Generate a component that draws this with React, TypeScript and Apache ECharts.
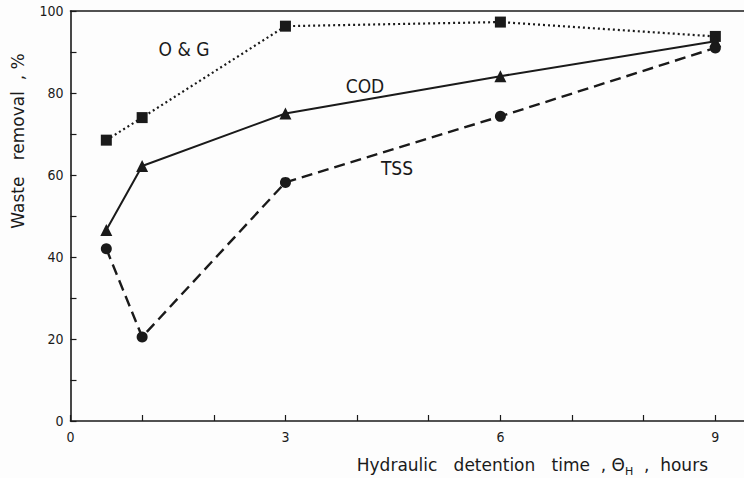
import React, { useEffect, useRef } from "react";
import * as echarts from "echarts";

const hours = [0.5, 1, 3, 6, 9];
const oilGrease = [68.5, 74, 96.3, 97.3, 93.8];
const cod = [46.6, 62.2, 75, 84.1, 92.6];
const tss = [42, 20.5, 58.2, 74.3, 91];
const xTicks = [0, 1, 2, 3, 4, 5, 6, 7, 8, 9];
const xLabels = [0, 3, 6, 9];
const yLabels = [0, 20, 40, 60, 80, 100];

const FONT = "'DejaVu Sans Condensed', 'Liberation Sans Narrow', 'Noto Sans', sans-serif";
const TITLE_FONT = "'DejaVu Sans', 'Noto Sans', sans-serif";
const INK = "#1a1a1a";

const pairs = (vals: number[]) => hours.map((h, i) => [h, vals[i]]);

export default function App() {
  const ref = useRef<HTMLDivElement>(null);
  useEffect(() => {
    if (!ref.current) return;
    const chart = echarts.init(ref.current, null, { renderer: "svg" });
    chart.setOption({
      animation: false,
      backgroundColor: "#fdfdfd",
      grid: { left: 70.5, right: 0, top: 11, bottom: 57 },
      xAxis: [
        {
          type: "value",
          min: 0,
          max: 9.4,
          interval: 1,
          axisLine: { show: true, lineStyle: { color: INK, width: 1.6 } },
          axisTick: { show: true, inside: true, length: 6, customValues: xTicks, lineStyle: { color: INK, width: 1.2 } },
          axisLabel: { customValues: xLabels, color: INK, fontSize: 14, fontFamily: FONT, margin: 9 },
          splitLine: { show: false },
        },
        {
          type: "value",
          position: "top",
          min: 0,
          max: 9.4,
          axisLine: { show: true, lineStyle: { color: INK, width: 1.6 } },
          axisTick: { show: false },
          axisLabel: { show: false },
          splitLine: { show: false },
        },
      ],
      yAxis: {
        type: "value",
        min: 0,
        max: 100,
        interval: 10,
        axisLine: { show: true, lineStyle: { color: INK, width: 1.6 } },
        axisTick: { show: true, inside: true, length: 6, lineStyle: { color: INK, width: 1.2 } },
        axisLabel: { customValues: yLabels, color: INK, fontSize: 14, fontFamily: FONT, margin: 7 },
        splitLine: { show: false },
      },
      series: [
        {
          name: "O & G",
          type: "line",
          data: pairs(oilGrease),
          symbol: "rect",
          symbolSize: 11,
          itemStyle: { color: INK },
          lineStyle: { color: INK, width: 2.2, type: [2, 3] },
        },
        {
          name: "COD",
          type: "line",
          data: pairs(cod),
          symbol: "triangle",
          symbolSize: 12,
          itemStyle: { color: INK },
          lineStyle: { color: INK, width: 2 },
        },
        {
          name: "TSS",
          type: "line",
          data: pairs(tss),
          symbol: "circle",
          symbolSize: 11,
          itemStyle: { color: INK },
          lineStyle: { color: INK, width: 2.4, type: [11, 6] },
        },
      ],
      graphic: [
        { type: "text", x: 184, y: 49, style: { text: "O & G", font: `19px ${FONT}`, fill: INK, align: "center", verticalAlign: "middle" } },
        { type: "text", x: 365, y: 86, style: { text: "COD", font: `19px ${FONT}`, fill: INK, align: "center", verticalAlign: "middle" } },
        { type: "text", x: 397, y: 168, style: { text: "TSS", font: `19px ${FONT}`, fill: INK, align: "center", verticalAlign: "middle" } },
        {
          type: "text",
          x: 18,
          y: 141,
          rotation: Math.PI / 2,
          style: { text: "Waste   removal  , %", font: `17px ${TITLE_FONT}`, fill: INK, align: "center", verticalAlign: "middle" },
        },
        {
          type: "text",
          x: 708,
          y: 465,
          style: {
            text: "Hydraulic   detention   time  , Θ{sub|H}  ,  hours",
            font: `17px ${TITLE_FONT}`,
            fill: INK,
            align: "right",
            verticalAlign: "middle",
            rich: { sub: { fontSize: 11, fontFamily: TITLE_FONT, fill: INK, padding: [12, 0, 0, 0] } },
          },
        },
      ],
    });
    return () => chart.dispose();
  }, []);
  return <div ref={ref} style={{ width: 744, height: 478, position: "absolute", left: 0, top: 0 }} />;
}
